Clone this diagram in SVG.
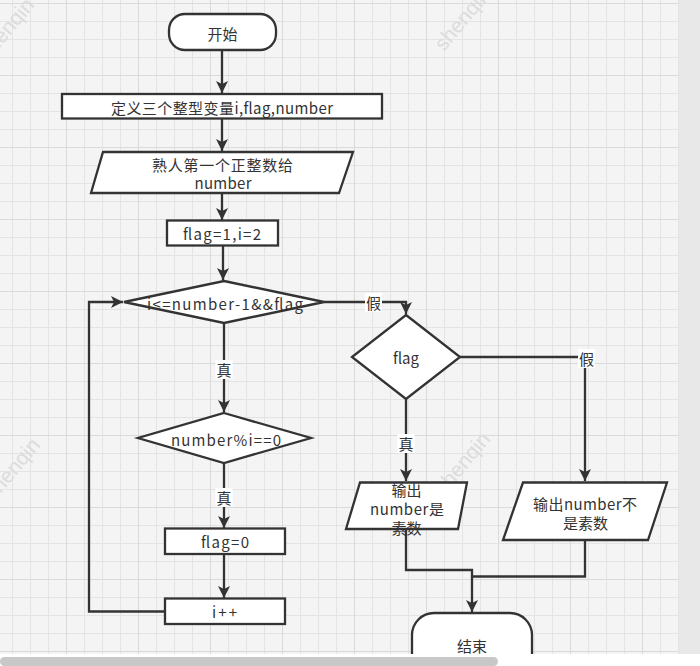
<svg xmlns="http://www.w3.org/2000/svg" width="700" height="666" viewBox="0 0 700 666">
<style>
.n{fill:#fff;stroke:#333;stroke-width:2.3}
.c{fill:none;stroke:#333;stroke-width:2.3}
.t{font-family:"Noto Sans CJK SC","Noto Sans",sans-serif;font-size:15px;fill:#333;text-anchor:middle;dominant-baseline:central}
.lb{fill:#fff}
.wm{font-family:"Liberation Sans",sans-serif;font-size:21px;fill:#dcdcdc}
</style>
<defs>
<pattern id="grid" patternUnits="userSpaceOnUse" x="0" y="0" width="72" height="72">
<rect width="72" height="72" fill="#f4f4f4"/>
<path d="M12.5 0V72M30.5 0V72M48.5 0V72M0 21.5H72M0 39.5H72M0 57.5H72" stroke="#e4e4e4" stroke-width="1"/>
<path d="M66.5 0V72M0 3.5H72" stroke="#dadada" stroke-width="1"/>
</pattern>
<marker id="ah" markerUnits="userSpaceOnUse" markerWidth="12" markerHeight="14" refX="12" refY="6" orient="auto">
<path d="M0 0L12 6L0 12L3 6Z" fill="#333"/>
</marker>
</defs>
<rect x="0" y="0" width="679" height="654" fill="url(#grid)"/>
<rect x="679" y="0" width="21" height="654" fill="#e8e8e8"/>
<g class="wm">
<text x="-12" y="62" transform="rotate(-50 -12 62)">shenqin</text>
<text x="444" y="52" transform="rotate(-50 444 52)">shenqin</text>
<text x="-6" y="502" transform="rotate(-50 -6 502)">shenqin</text>
<text x="444" y="496" transform="rotate(-50 444 496)">shenqin</text>
</g>
<g id="connectors">
<path class="c" d="M222 51V93" marker-end="url(#ah)"/>
<path class="c" d="M222 119V151" marker-end="url(#ah)"/>
<path class="c" d="M222 193V220" marker-end="url(#ah)"/>
<path class="c" d="M223 246V280" marker-end="url(#ah)"/>
<path class="c" d="M224 323V412" marker-end="url(#ah)"/>
<path class="c" d="M224 463V528" marker-end="url(#ah)"/>
<path class="c" d="M224 554V598" marker-end="url(#ah)"/>
<path class="c" d="M165 611.5H89V302H123" marker-end="url(#ah)"/>
<path class="c" d="M324 302H406V314" marker-end="url(#ah)"/>
<path class="c" d="M460 357H585V481" marker-end="url(#ah)"/>
<path class="c" d="M406 399V481" marker-end="url(#ah)"/>
<path class="c" d="M406 529V570H472V612" marker-end="url(#ah)"/>
<path class="c" d="M585 540V576.5H472"/>
<rect class="lb" x="215.5" y="360" width="17" height="19"/>
<text class="t" x="224" y="369.5">真</text>
<rect class="lb" x="215.5" y="488" width="17" height="19"/>
<text class="t" x="224" y="497.5">真</text>
<rect class="lb" x="365" y="293" width="17" height="19"/>
<text class="t" x="373.5" y="302.5">假</text>
<rect class="lb" x="578" y="349" width="17" height="19"/>
<text class="t" x="586.5" y="358.5">假</text>
<rect class="lb" x="397.5" y="434" width="17" height="19"/>
<text class="t" x="406" y="443">真</text>
</g>
<g id="start">
<rect class="n" x="169" y="14" width="107" height="36" rx="16"/>
<text class="t" x="222.5" y="33">开始</text>
</g>
<g id="define">
<rect class="n" x="62" y="94" width="320" height="24.5"/>
<text class="t" x="222" y="107" textLength="222">定义三个整型变量i,flag,number</text>
</g>
<g id="input">
<polygon class="n" points="103,152 353,152 339,193 91,193"/>
<text class="t" x="222.5" y="164" textLength="141">熟人第一个正整数给</text>
<text class="t" x="223" y="182.5" textLength="57">number</text>
</g>
<g id="init">
<rect class="n" x="167" y="220.5" width="111" height="25"/>
<text class="t" x="222" y="233.5" textLength="78">flag=1,i=2</text>
</g>
<g id="cond1">
<polygon class="n" points="224,281 324,302 224,323 124,302"/>
<text class="t" x="225" y="303" textLength="156">i&lt;=number-1&amp;&amp;flag</text>
</g>
<g id="cond2">
<polygon class="n" points="224,413 311,438 224,463 138,438"/>
<text class="t" x="226" y="439" textLength="110">number%i==0</text>
</g>
<g id="setflag">
<rect class="n" x="165" y="528.5" width="120" height="25.5"/>
<text class="t" x="225" y="541" textLength="48">flag=0</text>
</g>
<g id="inc">
<rect class="n" x="165" y="598.5" width="120" height="25.5"/>
<text class="t" x="224.5" y="611.5" textLength="25">i++</text>
</g>
<g id="flag">
<polygon class="n" points="406,315 460,357 406,399 352,357"/>
<text class="t" x="406" y="357.5">flag</text>
</g>
<g id="isprime">
<polygon class="n" points="360,482.5 467,482.5 458,529 346,529"/>
<text class="t" x="406.5" y="489">输出</text>
<text class="t" x="407" y="508" textLength="74">number是</text>
<text class="t" x="406.5" y="527">素数</text>
</g>
<g id="notprime">
<polygon class="n" points="523,482.5 667,482.5 648,540 503,540"/>
<text class="t" x="585" y="503" textLength="104">输出number不</text>
<text class="t" x="585.5" y="522">是素数</text>
</g>
<g id="end">
<rect class="n" x="412" y="613" width="120" height="64" rx="22"/>
<text class="t" x="472" y="645">结束</text>
</g>
<rect x="0" y="654" width="700" height="12" fill="#fff"/>
<rect x="0" y="657" width="498" height="9" rx="4.5" fill="#c8c8c8"/>
</svg>
